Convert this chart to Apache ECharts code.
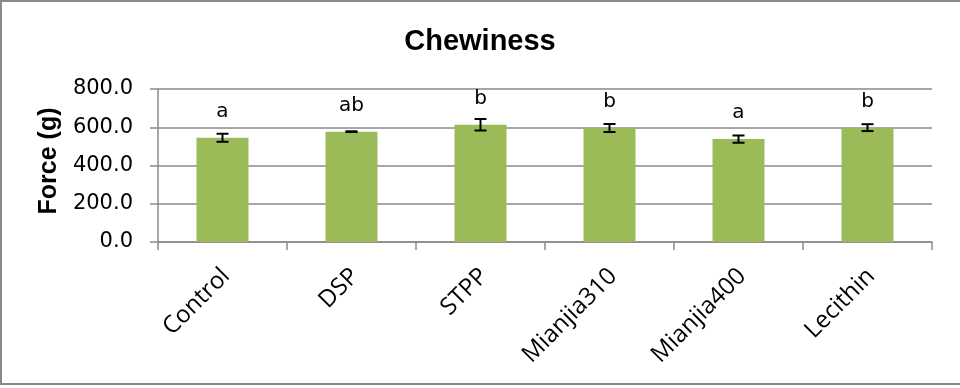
<!DOCTYPE html>
<html>
<head>
<meta charset="utf-8">
<script src="https://cdn.jsdelivr.net/npm/echarts@6/dist/echarts.min.js"></script>
<style>html,body{margin:0;padding:0;background:#fff}#c{width:960px;height:388px}</style>
</head>
<body>
<div id="c"></div>
<script>
var categories = ['Control', 'DSP', 'STPP', 'Mianjia310', 'Mianjia400', 'Lecithin'];
var means = [545, 577, 613, 596, 538, 598];
var errors = [21, 2, 30, 21, 19, 18];
var letters = ['a', 'ab', 'b', 'b', 'a', 'b'];
var yTicks = [0, 200, 400, 600, 800];

var chart = echarts.init(document.getElementById('c'));
var errData = means.map(function (m, i) { return [i, m, errors[i]]; });
chart.setOption({
  animation: false,
  graphic: [{
    type: 'rect', shape: {x: 1, y: 1, width: 980, height: 383},
    style: {fill: 'none', stroke: '#8a8a8a', lineWidth: 2}, silent: true
  }],
  title: {
    text: 'Chewiness', left: 'center', top: 22,
    textStyle: {fontFamily: 'Liberation Sans', fontWeight: 'bold', fontSize: 29, color: '#000'}
  },
  grid: {left: 158, right: 28, top: 89, bottom: 146},
  xAxis: {
    type: 'category', data: categories,
    axisLine: {lineStyle: {color: '#8a8a8a', width: 1.5}},
    axisTick: {show: true, length: 8, alignWithLabel: false, lineStyle: {color: '#8a8a8a', width: 1.5}},
    axisLabel: {
      rotate: 45, margin: 34, interval: 0, color: '#000',
      fontFamily: 'Open Sans', fontSize: 24, padding: [0, -5, 0, 0]
    }
  },
  yAxis: {
    type: 'value', min: 0, max: 800, interval: 200,
    name: 'Force (g)', nameLocation: 'middle', nameRotate: 90, nameGap: 89,
    nameTextStyle: {fontFamily: 'Liberation Sans', fontWeight: 'bold', fontSize: 25, color: '#000', padding: [0, 0, 0, 9]},
    axisLine: {show: true, lineStyle: {color: '#8a8a8a', width: 1.5}},
    axisTick: {show: true, length: 8, lineStyle: {color: '#8a8a8a', width: 1.5}},
    splitLine: {lineStyle: {color: '#8a8a8a', width: 1.5}},
    axisLabel: {
      margin: 25, color: '#000', fontFamily: 'DejaVu Sans', fontSize: 21,
      formatter: function (v) { return yTicks.indexOf(v) >= 0 ? v.toFixed(1) : ''; }
    }
  },
  series: [{
    type: 'bar', data: means, barWidth: 52,
    itemStyle: {color: '#9BBB59'},
    label: {
      show: true, position: 'top', distance: 16, color: '#000',
      fontFamily: 'DejaVu Sans', fontSize: 20,
      formatter: function (p) { return letters[p.dataIndex]; }
    }
  }, {
    type: 'custom', data: errData, z: 10,
    renderItem: function (params, api) {
      var x = api.value(0), m = api.value(1), e = api.value(2);
      var top = api.coord([x, m + e]);
      var bot = api.coord([x, m - e]);
      var hw = 6;
      var st = {stroke: '#000', lineWidth: 2};
      return {type: 'group', children: [
        {type: 'line', shape: {x1: top[0], y1: top[1], x2: bot[0], y2: bot[1]}, style: st},
        {type: 'line', shape: {x1: top[0] - hw, y1: top[1], x2: top[0] + hw, y2: top[1]}, style: st},
        {type: 'line', shape: {x1: bot[0] - hw, y1: bot[1], x2: bot[0] + hw, y2: bot[1]}, style: st}
      ]};
    }
  }]
});
</script>
</body>
</html>
